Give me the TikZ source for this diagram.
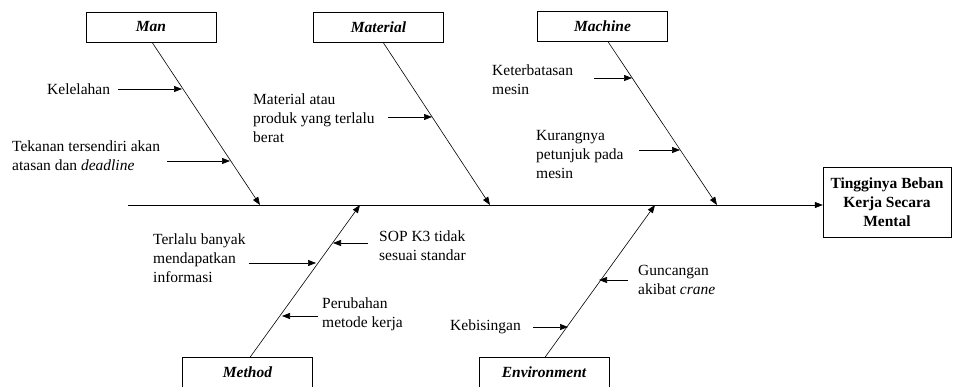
\documentclass[tikz,border=0pt]{standalone}
\usepackage{fontspec}
\setmainfont{Liberation Serif}
\usetikzlibrary{arrows.meta}
\tikzstyle{catbox}=[draw, minimum width=130pt, minimum height=30pt, inner sep=0pt, font=\fontsize{15.5}{19}\selectfont\bfseries\itshape]
\tikzstyle{effectbox}=[draw, minimum width=128pt, minimum height=70pt, inner sep=0pt, align=center, font=\fontsize{15.5}{19}\selectfont\bfseries]
\tikzstyle{causetext}=[anchor=west, inner sep=0pt, align=left, font=\fontsize{15.5}{19}\selectfont]
\tikzstyle{bone}=[line width=0.6pt, -{Triangle[length=8pt,width=6pt]}]

\begin{document}
\begin{tikzpicture}[x=1pt,y=-1pt]
    \useasboundingbox (0,0) rectangle (953,387);
    \node [catbox] (man) at (151,27) {Man};
    \node [catbox] (material) at (378.5,27) {Material};
    \node [catbox] (machine) at (602.5,26.5) {Machine};
    \node [catbox] (method) at (247.5,372.5) {Method};
    \node [catbox] (environment) at (544,372.5) {Environment};
    \node [effectbox] (effect) at (887,202) {Tingginya Beban\\Kerja Secara\\Mental};
    \coordinate (tail) at (128,205);
    \coordinate (manhead) at (260,205);
    \coordinate (materialhead) at (490,205);
    \coordinate (machinehead) at (717,205);
    \coordinate (methodhead) at (360,205);
    \coordinate (environmenthead) at (655,205);
    \draw [bone] (tail) -- (tail -| effect.west);
    \draw [bone] ([xshift=1pt]man.south) -- (manhead);
    \draw [bone] ([xshift=4.5pt]material.south) -- (materialhead);
    \draw [bone] ([xshift=5.5pt]machine.south) -- (machinehead);
    \draw [bone] ([xshift=2.5pt]method.north) -- (methodhead);
    \draw [bone] ([xshift=1pt]environment.north) -- (environmenthead);
    \node [causetext] (kelelahan) at (47,89) {Kelelahan};
    \node [causetext] (tekanan) at (12,156) {Tekanan tersendiri akan\\atasan dan \textit{deadline}};
    \node [causetext] (produk) at (253,118) {Material atau\\produk yang terlalu\\berat};
    \node [causetext] (keterbatasan) at (492,80) {Keterbatasan\\mesin};
    \node [causetext] (petunjuk) at (536,155) {Kurangnya\\petunjuk pada\\mesin};
    \node [causetext] (informasi) at (153,258) {Terlalu banyak\\mendapatkan\\informasi};
    \node [causetext] (sop) at (379,245.5) {SOP K3 tidak\\sesuai standar};
    \node [causetext] (perubahan) at (322,314.5) {Perubahan\\metode kerja};
    \node [causetext] (kebisingan) at (450,327) {Kebisingan};
    \node [causetext] (guncangan) at (638,280) {Guncangan\\akibat \textit{crane}};
    \coordinate (kelelahanend) at (182,89);
    \coordinate (tekananend) at (230,161);
    \coordinate (produkend) at (432,117);
    \coordinate (keterbatasanend) at (632,78);
    \coordinate (petunjukend) at (680,150);
    \coordinate (informasiend) at (316,263);
    \coordinate (sopend) at (333,243);
    \coordinate (perubahanend) at (282,316);
    \coordinate (kebisinganend) at (568,327);
    \coordinate (guncanganend) at (599,280);
    \draw [bone] (kelelahan.east |- kelelahanend) ++(8,0) -- (kelelahanend);
    \draw [bone] (tekanan.east |- tekananend) ++(7,0) -- (tekananend);
    \draw [bone] (produk.east |- produkend) ++(13,0) -- (produkend);
    \draw [bone] (keterbatasan.east |- keterbatasanend) ++(21,0) -- (keterbatasanend);
    \draw [bone] (petunjuk.east |- petunjukend) ++(15,0) -- (petunjukend);
    \draw [bone] (informasi.east |- informasiend) ++(3,0) -- (informasiend);
    \draw [bone] (sop.west |- sopend) ++(-11,0) -- (sopend);
    \draw [bone] (perubahan.west |- perubahanend) ++(-4,0) -- (perubahanend);
    \draw [bone] (kebisingan.east |- kebisinganend) ++(12,0) -- (kebisinganend);
    \draw [bone] (guncangan.west |- guncanganend) ++(-10,0) -- (guncanganend);
\end{tikzpicture}
\end{document}
